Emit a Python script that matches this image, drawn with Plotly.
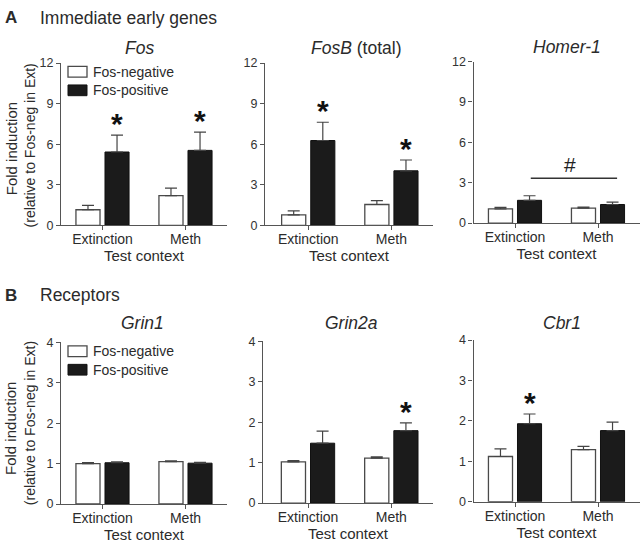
import plotly.graph_objects as go

# ---------------- data ----------------
contexts = ["Extinction", "Meth"]
series_names = ["Fos-negative", "Fos-positive"]

genes = ["Fos", "FosB", "Homer-1", "Grin1", "Grin2a", "Cbr1"]
gene_titles = ["<i>Fos</i>", "<i>FosB</i> (total)", "<i>Homer-1</i>",
               "<i>Grin1</i>", "<i>Grin2a</i>", "<i>Cbr1</i>"]

neg_fos = [1.15, 2.19];   neg_fos_sem = [0.32, 0.56]
pos_fos = [5.42, 5.54];   pos_fos_sem = [1.25, 1.35]
neg_fosb = [0.77, 1.54];  neg_fosb_sem = [0.29, 0.29]
pos_fosb = [6.27, 4.03];  pos_fosb_sem = [1.35, 0.80]
neg_homer = [1.06, 1.11]; neg_homer_sem = [0.10, 0.07]
pos_homer = [1.69, 1.38]; pos_homer_sem = [0.34, 0.17]
neg_grin1 = [1.00, 1.05]; neg_grin1_sem = [0.025, 0.02]
pos_grin1 = [1.02, 1.01]; pos_grin1_sem = [0.02, 0.02]
neg_grin2a = [1.02, 1.11]; neg_grin2a_sem = [0.03, 0.03]
pos_grin2a = [1.48, 1.79]; pos_grin2a_sem = [0.30, 0.19]
neg_cbr1 = [1.12, 1.29];  neg_cbr1_sem = [0.19, 0.08]
pos_cbr1 = [1.93, 1.76];  pos_cbr1_sem = [0.24, 0.21]

neg_means = [neg_fos, neg_fosb, neg_homer, neg_grin1, neg_grin2a, neg_cbr1]
neg_sems = [neg_fos_sem, neg_fosb_sem, neg_homer_sem, neg_grin1_sem, neg_grin2a_sem, neg_cbr1_sem]
pos_means = [pos_fos, pos_fosb, pos_homer, pos_grin1, pos_grin2a, pos_cbr1]
pos_sems = [pos_fos_sem, pos_fosb_sem, pos_homer_sem, pos_grin1_sem, pos_grin2a_sem, pos_cbr1_sem]

# significance: (panel index, context index) for Fos-positive bars
star_marks = [(0, 0), (0, 1), (1, 0), (1, 1), (4, 1), (5, 0)]
hash_panel = 2
hash_level = 3.33

ticks_A = [0, 3, 6, 9, 12]
ticks_B = [0, 1, 2, 3, 4]

# ---------------- styling / layout ----------------
W, H = 640, 550
FONT = "Liberation Sans, Arial, sans-serif"
TXT = "#2b2b2b"
AX = "#555555"

def px(x):
    return x / W

def py(y):
    return 1 - y / H

# pixel domains (left, right) and (bottom, top), x ranges
x_dom = [(61, 227), (265, 433), (473.5, 639.5), (61, 227), (263, 433), (473.5, 639.5)]
x_rng = [(-0.5, 1.5), (-0.52, 1.5), (-0.5, 1.5), (-0.5, 1.5), (-0.54, 1.5), (-0.5, 1.5)]
y_dom = [(224, 57.5), (224, 57.5), (221.7, 56), (510, 344), (509, 343), (507.7, 341.7)]

BW = 0.29
OFF_NEG = -0.175 - BW / 2
OFF_POS = 0.175 - BW / 2

fig = go.Figure()
for i in range(6):
    xa = "x" if i == 0 else f"x{i+1}"
    ya = "y" if i == 0 else f"y{i+1}"
    fig.add_trace(go.Bar(
        x=[0, 1], y=neg_means[i], name=series_names[0], xaxis=xa, yaxis=ya,
        width=BW, offset=OFF_NEG, showlegend=False,
        marker=dict(color="white", line=dict(color="#4a4a4a", width=1.3)),
        error_y=dict(type="data", array=neg_sems[i], arrayminus=[0, 0], symmetric=False,
                     color="#444444", thickness=1.2, width=6),
    ))
    fig.add_trace(go.Bar(
        x=[0, 1], y=pos_means[i], name=series_names[1], xaxis=xa, yaxis=ya,
        width=BW, offset=OFF_POS, showlegend=False,
        marker=dict(color="#1b1b1b", line=dict(color="#111111", width=1)),
        error_y=dict(type="data", array=pos_sems[i], arrayminus=[0, 0], symmetric=False,
                     color="#444444", thickness=1.2, width=6),
    ))

layout = dict(
    width=W, height=H, margin=dict(l=0, r=0, t=0, b=0),
    paper_bgcolor="white", plot_bgcolor="white",
    barmode="overlay", font=dict(family=FONT, color=TXT),
)
for i in range(6):
    sx = "xaxis" if i == 0 else f"xaxis{i+1}"
    sy = "yaxis" if i == 0 else f"yaxis{i+1}"
    ya = "y" if i == 0 else f"y{i+1}"
    xa = "x" if i == 0 else f"x{i+1}"
    layout[sx] = dict(
        domain=[px(x_dom[i][0]), px(x_dom[i][1])], range=list(x_rng[i]), anchor=ya,
        showline=True, linecolor=AX, linewidth=1.2, showgrid=False, zeroline=False,
        ticks="outside", ticklen=4, tickcolor=AX, tickwidth=1.2, ticklabelstandoff=-3,
        tickvals=[0, 1], ticktext=contexts, tickfont=dict(size=14, color=TXT),
        title=dict(text="Test context", font=dict(size=15, color=TXT), standoff=1),
        fixedrange=True,
    )
    layout[sy] = dict(
        domain=[py(y_dom[i][0]), py(y_dom[i][1])],
        range=[0, 12] if i < 3 else [0, 4], anchor=xa,
        tickvals=ticks_A if i < 3 else ticks_B,
        showline=True, linecolor=AX, linewidth=1.2, showgrid=False, zeroline=False,
        ticks="outside", ticklen=4, tickcolor=AX, tickwidth=1.2,
        tickfont=dict(size=12.5, color="#333333"), fixedrange=True,
    )
fig.update_layout(**layout)

ann = []
shapes = []

# panel headings
ann.append(dict(text="<b>A</b>", x=px(3), y=py(11), xref="paper", yref="paper",
                xanchor="left", yanchor="middle", showarrow=False, font=dict(size=17, color=TXT)))
ann.append(dict(text="Immediate early genes", x=px(38), y=py(11), xref="paper", yref="paper",
                xanchor="left", yanchor="middle", showarrow=False, font=dict(size=17.5, color=TXT)))
ann.append(dict(text="<b>B</b>", x=px(3), y=py(296), xref="paper", yref="paper",
                xanchor="left", yanchor="middle", showarrow=False, font=dict(size=17, color=TXT)))
ann.append(dict(text="Receptors", x=px(38), y=py(296), xref="paper", yref="paper",
                xanchor="left", yanchor="middle", showarrow=False, font=dict(size=17.5, color=TXT)))

# subplot titles
title_pos = [(139, 42), (356, 42), (567, 41), (142, 324), (351, 324), (562, 324)]
for i in range(6):
    ann.append(dict(text=gene_titles[i], x=px(title_pos[i][0]), y=py(title_pos[i][1]),
                    xref="paper", yref="paper", xanchor="center", yanchor="middle",
                    showarrow=False, font=dict(size=17.5, color=TXT)))

# y axis titles (two rows)
for cy1, cy2 in [(146, 142), (433, 427)]:
    ann.append(dict(text="Fold induction", x=px(11), y=py(cy1), xref="paper", yref="paper",
                    xanchor="center", yanchor="middle", textangle=-90, showarrow=False,
                    font=dict(size=15, color=TXT)))
    ann.append(dict(text="(relative to Fos-neg in Ext)", x=px(30), y=py(cy2), xref="paper",
                    yref="paper", xanchor="center", yanchor="middle", textangle=-90,
                    showarrow=False, font=dict(size=14, color=TXT)))

# legends (in Fos and Grin1 panels)
for ytop in [61, 347.7]:
    shapes.append(dict(type="rect", xref="paper", yref="paper", x0=px(68), x1=px(87),
                       y0=py(ytop + 11), y1=py(ytop), fillcolor="white",
                       line=dict(color="#4a4a4a", width=1.3)))
    shapes.append(dict(type="rect", xref="paper", yref="paper", x0=px(68), x1=px(87),
                       y0=py(ytop + 30), y1=py(ytop + 19), fillcolor="#1b1b1b",
                       line=dict(color="#111111", width=1)))
    ann.append(dict(text=series_names[0], x=px(91), y=py(ytop + 5.5), xref="paper", yref="paper",
                    xanchor="left", yanchor="middle", showarrow=False, font=dict(size=14, color=TXT)))
    ann.append(dict(text=series_names[1], x=px(91), y=py(ytop + 24.5), xref="paper", yref="paper",
                    xanchor="left", yanchor="middle", showarrow=False, font=dict(size=14, color=TXT)))

# stars
for (p, c) in star_marks:
    xa = "x" if p == 0 else f"x{p+1}"
    ya = "y" if p == 0 else f"y{p+1}"
    ann.append(dict(text="<b>*</b>", x=c + 0.175, y=pos_means[p][c] + pos_sems[p][c],
                    xref=xa, yref=ya, xanchor="center", yanchor="bottom", yshift=-7,
                    showarrow=False, font=dict(size=30, color="#111111")))

# hash line across Homer-1
hx = f"x{hash_panel+1}"
hy = f"y{hash_panel+1}"
shapes.append(dict(type="line", xref=hx, yref=hy, x0=0.19, x1=1.23, y0=hash_level, y1=hash_level,
                   line=dict(color="#333333", width=1.4)))
ann.append(dict(text="#", x=0.66, y=hash_level, xref=hx, yref=hy, xanchor="center",
                yanchor="bottom", yshift=0, showarrow=False, font=dict(size=21, color="#222222")))

fig.update_layout(annotations=ann, shapes=shapes)
fig.write_html("out.html", config={"displayModeBar": False},
               post_script="document.body.style.margin='0';")
